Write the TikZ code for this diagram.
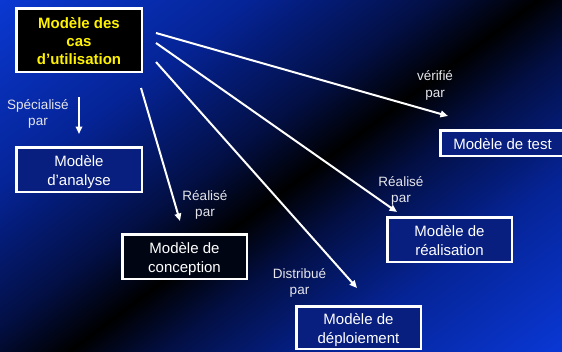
\documentclass[tikz,border=0pt]{standalone}
\usepackage{fontspec}
\setmainfont{Liberation Sans}
\usetikzlibrary{arrows.meta}
\pgfdeclarehorizontalshading{bgshade}{100bp}{rgb(0bp)=(0.04,0.22,0.82); rgb(25bp)=(0.04,0.22,0.82); rgb(37bp)=(0.02,0.14,0.59); rgb(46bp)=(0.01,0.06,0.27); rgb(51bp)=(0,0,0); rgb(55.6bp)=(0.01,0.06,0.27); rgb(63.7bp)=(0.02,0.14,0.59); rgb(75bp)=(0.04,0.22,0.84); rgb(100bp)=(0.04,0.22,0.84)}
\definecolor{boxnavy}{rgb}{0.03,0.12,0.50}
\definecolor{boxdark}{rgb}{0.0,0.02,0.08}
\definecolor{labelgray}{rgb}{0.9,0.9,0.92}
\newcommand{\mdltxt}[1]{\raisebox{-2.7pt}[\height][\depth]{\begin{tabular}{@{}c@{}}#1\end{tabular}}}
\tikzset{
  modelbox/.style={draw=white, line width=2.5pt, inner sep=0pt, text=white, fill=boxnavy, font=\fontsize{15}{18.5}\selectfont},
  usecasebox/.style={modelbox, fill=black, text=yellow, font=\fontsize{15}{18}\selectfont\bfseries},
  rellabel/.style={align=center, text=labelgray, font=\fontsize{13.5}{16.5}\selectfont, inner sep=0pt},
  relarrow/.style={draw=white, line width=2pt, -{Triangle[length=7.5pt,width=6.5pt]}},
}
\begin{document}
\begin{tikzpicture}[x=1pt,y=-1pt]
\useasboundingbox (0,0) rectangle (562,351);
\begin{scope}
\clip (0,0) rectangle (562,351);
\begin{scope}[transform canvas={rotate around={-53.13:(0,0)}}]
\shade[shading=bgshade] (0,-900) rectangle (620,900);
\end{scope}
\end{scope}
% boxes
\node[usecasebox, minimum width=125.5pt, minimum height=63.5pt] (cas) at (79,40) {\mdltxt{Modèle des\\cas\\d’utilisation}};
\node[modelbox, minimum width=125.5pt, minimum height=44.5pt] (analyse) at (79,169.5) {\mdltxt{Modèle\\d’analyse}};
\node[modelbox, fill=boxdark, minimum width=124.5pt, minimum height=44.5pt] (conception) at (184.5,256.5) {\mdltxt{Modèle de\\conception}};
\node[modelbox, minimum width=124.5pt, minimum height=44.5pt] (realisation) at (449.5,239.5) {\mdltxt{Modèle de\\réalisation}};
\node[modelbox, minimum width=124.5pt, minimum height=42.5pt] (deploiement) at (358.5,327.5) {\mdltxt{Modèle de\\déploiement}};
\node[modelbox, minimum width=124.5pt, minimum height=25.5pt] (test) at (502.5,143) {\mdltxt{Modèle de test}};
% arrow end points
\coordinate (s1) at (79,97);   \coordinate (e1) at (79,134);
\coordinate (s2) at (156,33);  \coordinate (e2) at (448,116);
\coordinate (s3) at (156,43);  \coordinate (e3) at (397,212);
\coordinate (s4) at (156,62);  \coordinate (e4) at (357,288);
\coordinate (s5) at (141,88);  \coordinate (e5) at (180,221);
\draw[relarrow] (s1) -- (e1);
\draw[relarrow] (s2) -- (e2);
\draw[relarrow] (s3) -- (e3);
\draw[relarrow] (s4) -- (e4);
\draw[relarrow] (s5) -- (e5);
% labels
\node[rellabel] (lspec) at (38,114) {Spécialisé\\par};
\node[rellabel] (lverif) at (435,85.5) {vérifié\\par};
\node[rellabel] (lreal1) at (205,205) {Réalisé\\par};
\node[rellabel] (lreal2) at (401,191) {Réalisé\\par};
\node[rellabel] (ldistr) at (299.5,283) {Distribué\\par};
\end{tikzpicture}
\end{document}
